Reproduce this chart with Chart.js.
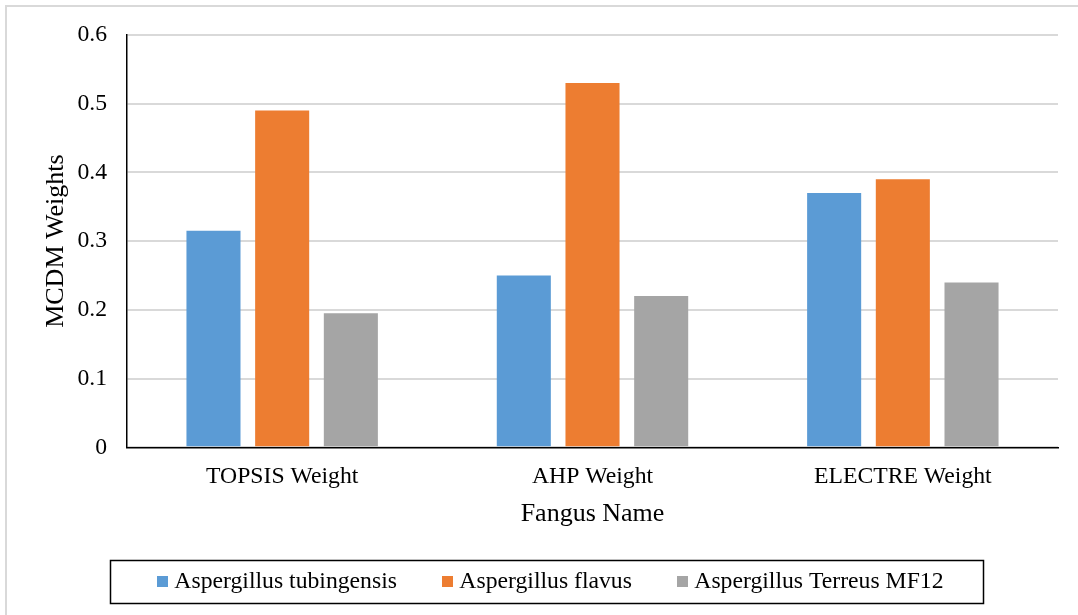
<!DOCTYPE html>
<html>
<head>
<meta charset="utf-8">
<script src="https://cdn.jsdelivr.net/npm/chart.js@4.4.1/dist/chart.umd.min.js"></script>
<style>
  html, body { margin: 0; padding: 0; background: #ffffff; }
  #wrap { width: 1078px; height: 615px; position: relative; }
</style>
</head>
<body>
<div id="wrap"><canvas id="c" width="1078" height="615"></canvas></div>
<script>
const categories = ['TOPSIS Weight', 'AHP Weight', 'ELECTRE Weight'];
const seriesNames = ['Aspergillus tubingensis', 'Aspergillus flavus', 'Aspergillus Terreus MF12'];
const tubingensis = [0.315, 0.25, 0.37];
const flavus = [0.49, 0.53, 0.39];
const terreus = [0.195, 0.22, 0.24];
const yTickLabels = ['0', '0.1', '0.2', '0.3', '0.4', '0.5', '0.6'];
const seriesColors = ['#5B9BD5', '#ED7D31', '#A5A5A5'];

const FONT = "'Liberation Serif', 'Times New Roman', serif";

function legendSquare(color) {
  const cv = document.createElement('canvas');
  cv.width = 11; cv.height = 11;
  const cx = cv.getContext('2d');
  cx.fillStyle = color;
  cx.fillRect(0, 0, 11, 11);
  return cv;
}

const frame = {
  id: 'frame',
  beforeDraw(chart) {
    const ctx = chart.ctx;
    ctx.save();
    ctx.strokeStyle = '#d9d9d9';
    ctx.lineWidth = 2;
    ctx.beginPath();
    ctx.moveTo(6, 620);
    ctx.lineTo(6, 6);
    ctx.lineTo(1080, 6);
    ctx.stroke();
    ctx.restore();
  },
  afterDraw(chart) {
    const lg = chart.legend;
    if (!lg || !lg.legendHitBoxes || !lg.legendHitBoxes.length) return;
    const hb = lg.legendHitBoxes;
    const first = hb[0], last = hb[hb.length - 1];
    const cy = first.top + first.height / 2;
    const ctx = chart.ctx;
    ctx.save();
    ctx.strokeStyle = '#000';
    ctx.lineWidth = 1.5;
    const left = first.left - 52.5;
    const right = last.left + last.width + 39;
    ctx.strokeRect(Math.round(left) + 0.5, Math.round(cy - 21.5) + 0.5, Math.round(right - left), 43);
    ctx.restore();
  }
};

const datasets = [tubingensis, flavus, terreus].map((vals, i) => ({
  label: seriesNames[i],
  data: vals,
  backgroundColor: seriesColors[i],
  borderWidth: 0,
  pointStyle: legendSquare(seriesColors[i]),
  categoryPercentage: 0.664,
  barPercentage: 0.787
}));

new Chart(document.getElementById('c'), {
  type: 'bar',
  data: { labels: categories, datasets },
  plugins: [frame],
  options: {
    responsive: false,
    animation: false,
    devicePixelRatio: 1,
    layout: { padding: { left: 48, right: 20, top: 35, bottom: 11.5 } },
    plugins: {
      tooltip: { enabled: false },
      legend: {
        position: 'bottom',
        labels: {
          usePointStyle: true,
          pointStyleWidth: 0.01,
          boxHeight: 11,
          padding: 50.5,
          color: '#000',
          font: { family: FONT, size: 23.7 }
        }
      }
    },
    scales: {
      x: {
        grid: { display: false, drawTicks: false },
        border: { display: true, color: '#000', width: 1.5 },
        ticks: { color: '#000', padding: 15.6, font: { family: FONT, size: 23.7 } },
        title: {
          display: true, text: 'Fangus Name', color: '#000',
          font: { family: FONT, size: 26 },
          padding: { top: 0, bottom: -10.6 }
        },
        afterFit(scale) { scale.height = 72; }
      },
      y: {
        min: 0, max: 0.6,
        ticks: {
          stepSize: 0.1, color: '#000', padding: 20,
          font: { family: FONT, size: 23.7 },
          callback(v, i) { return yTickLabels[i]; }
        },
        grid: { color: '#d9d9d9', lineWidth: 2, drawTicks: false },
        border: { display: true, color: '#000', width: 1.5 },
        title: {
          display: true, text: 'MCDM Weights', color: '#000',
          font: { family: FONT, size: 26 },
          padding: { top: -7.6, bottom: 0 }
        },
        afterFit(scale) { scale.width = 79; }
      }
    }
  }
});
</script>
</body>
</html>
